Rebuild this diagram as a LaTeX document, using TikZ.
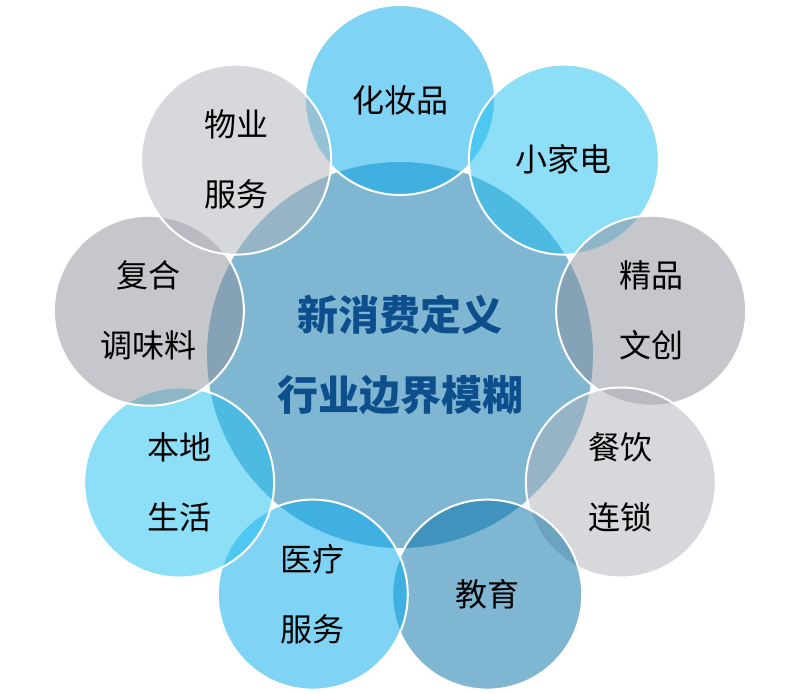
\documentclass[tikz,border=0pt]{standalone}
\usepackage{fontspec}
\setmainfont{Noto Sans CJK SC}
\usetikzlibrary{positioning}
\definecolor{CyanDeep}{RGB}{0,169,235}
\definecolor{CyanLight}{RGB}{27,191,239}
\definecolor{SteelBlue}{RGB}{0,112,168}
\definecolor{SlateGray}{RGB}{141,143,153}
\definecolor{MistGray}{RGB}{175,177,185}
\definecolor{TitleNavy}{HTML}{0D4E8C}

\begin{document}
\begin{tikzpicture}[
    x=1pt, y=1pt,
    bolha/.style={circle, draw=white, line width=2pt, fill opacity=0.5, text opacity=1, minimum size=190pt, inner sep=0pt, align=center, font=\fontsize{32}{70}\selectfont}
]

  % Moldura (proporções da referência)
  \useasboundingbox (-400, -338) rectangle (402, 355);

  % =========================================================================
  % CÍRCULO CENTRAL
  % =========================================================================
  \node[circle, fill=SteelBlue, fill opacity=0.5, minimum size=386pt, inner sep=0pt] (nucleo) at (0, 0) {};

  % =========================================================================
  % ANEL DE SETORES (sentido horário a partir do topo)
  % =========================================================================
  \node[bolha, fill=CyanDeep] (cosmeticos) at (90:255) {化妆品};
  \node[bolha, fill=CyanLight] (eletro) at (50:255) {小家电};
  \node[bolha, fill=SlateGray] (criativos) at (10:255) {精品\\文创};
  \node[bolha, fill=MistGray] (restaurantes) at (-30:255) {餐饮\\连锁};
  \node[bolha, fill=SteelBlue] (educacao) at (-70:255) {教育};
  \node[bolha, fill=CyanDeep] (saude) at (-110:255) {医疗\\服务};
  \node[bolha, fill=CyanLight] (local) at (-150:255) {本地\\生活};
  \node[bolha, fill=SlateGray] (temperos) at (170:255) {复合\\调味料};
  \node[bolha, fill=MistGray] (imoveis) at (130:255) {物业\\服务};

  % Título central
  \node[font=\fontsize{41}{80}\selectfont\bfseries, text=TitleNavy, align=center] (titulo) at (nucleo.center) {新消费定义\\行业边界模糊};

\end{tikzpicture}
\end{document}
